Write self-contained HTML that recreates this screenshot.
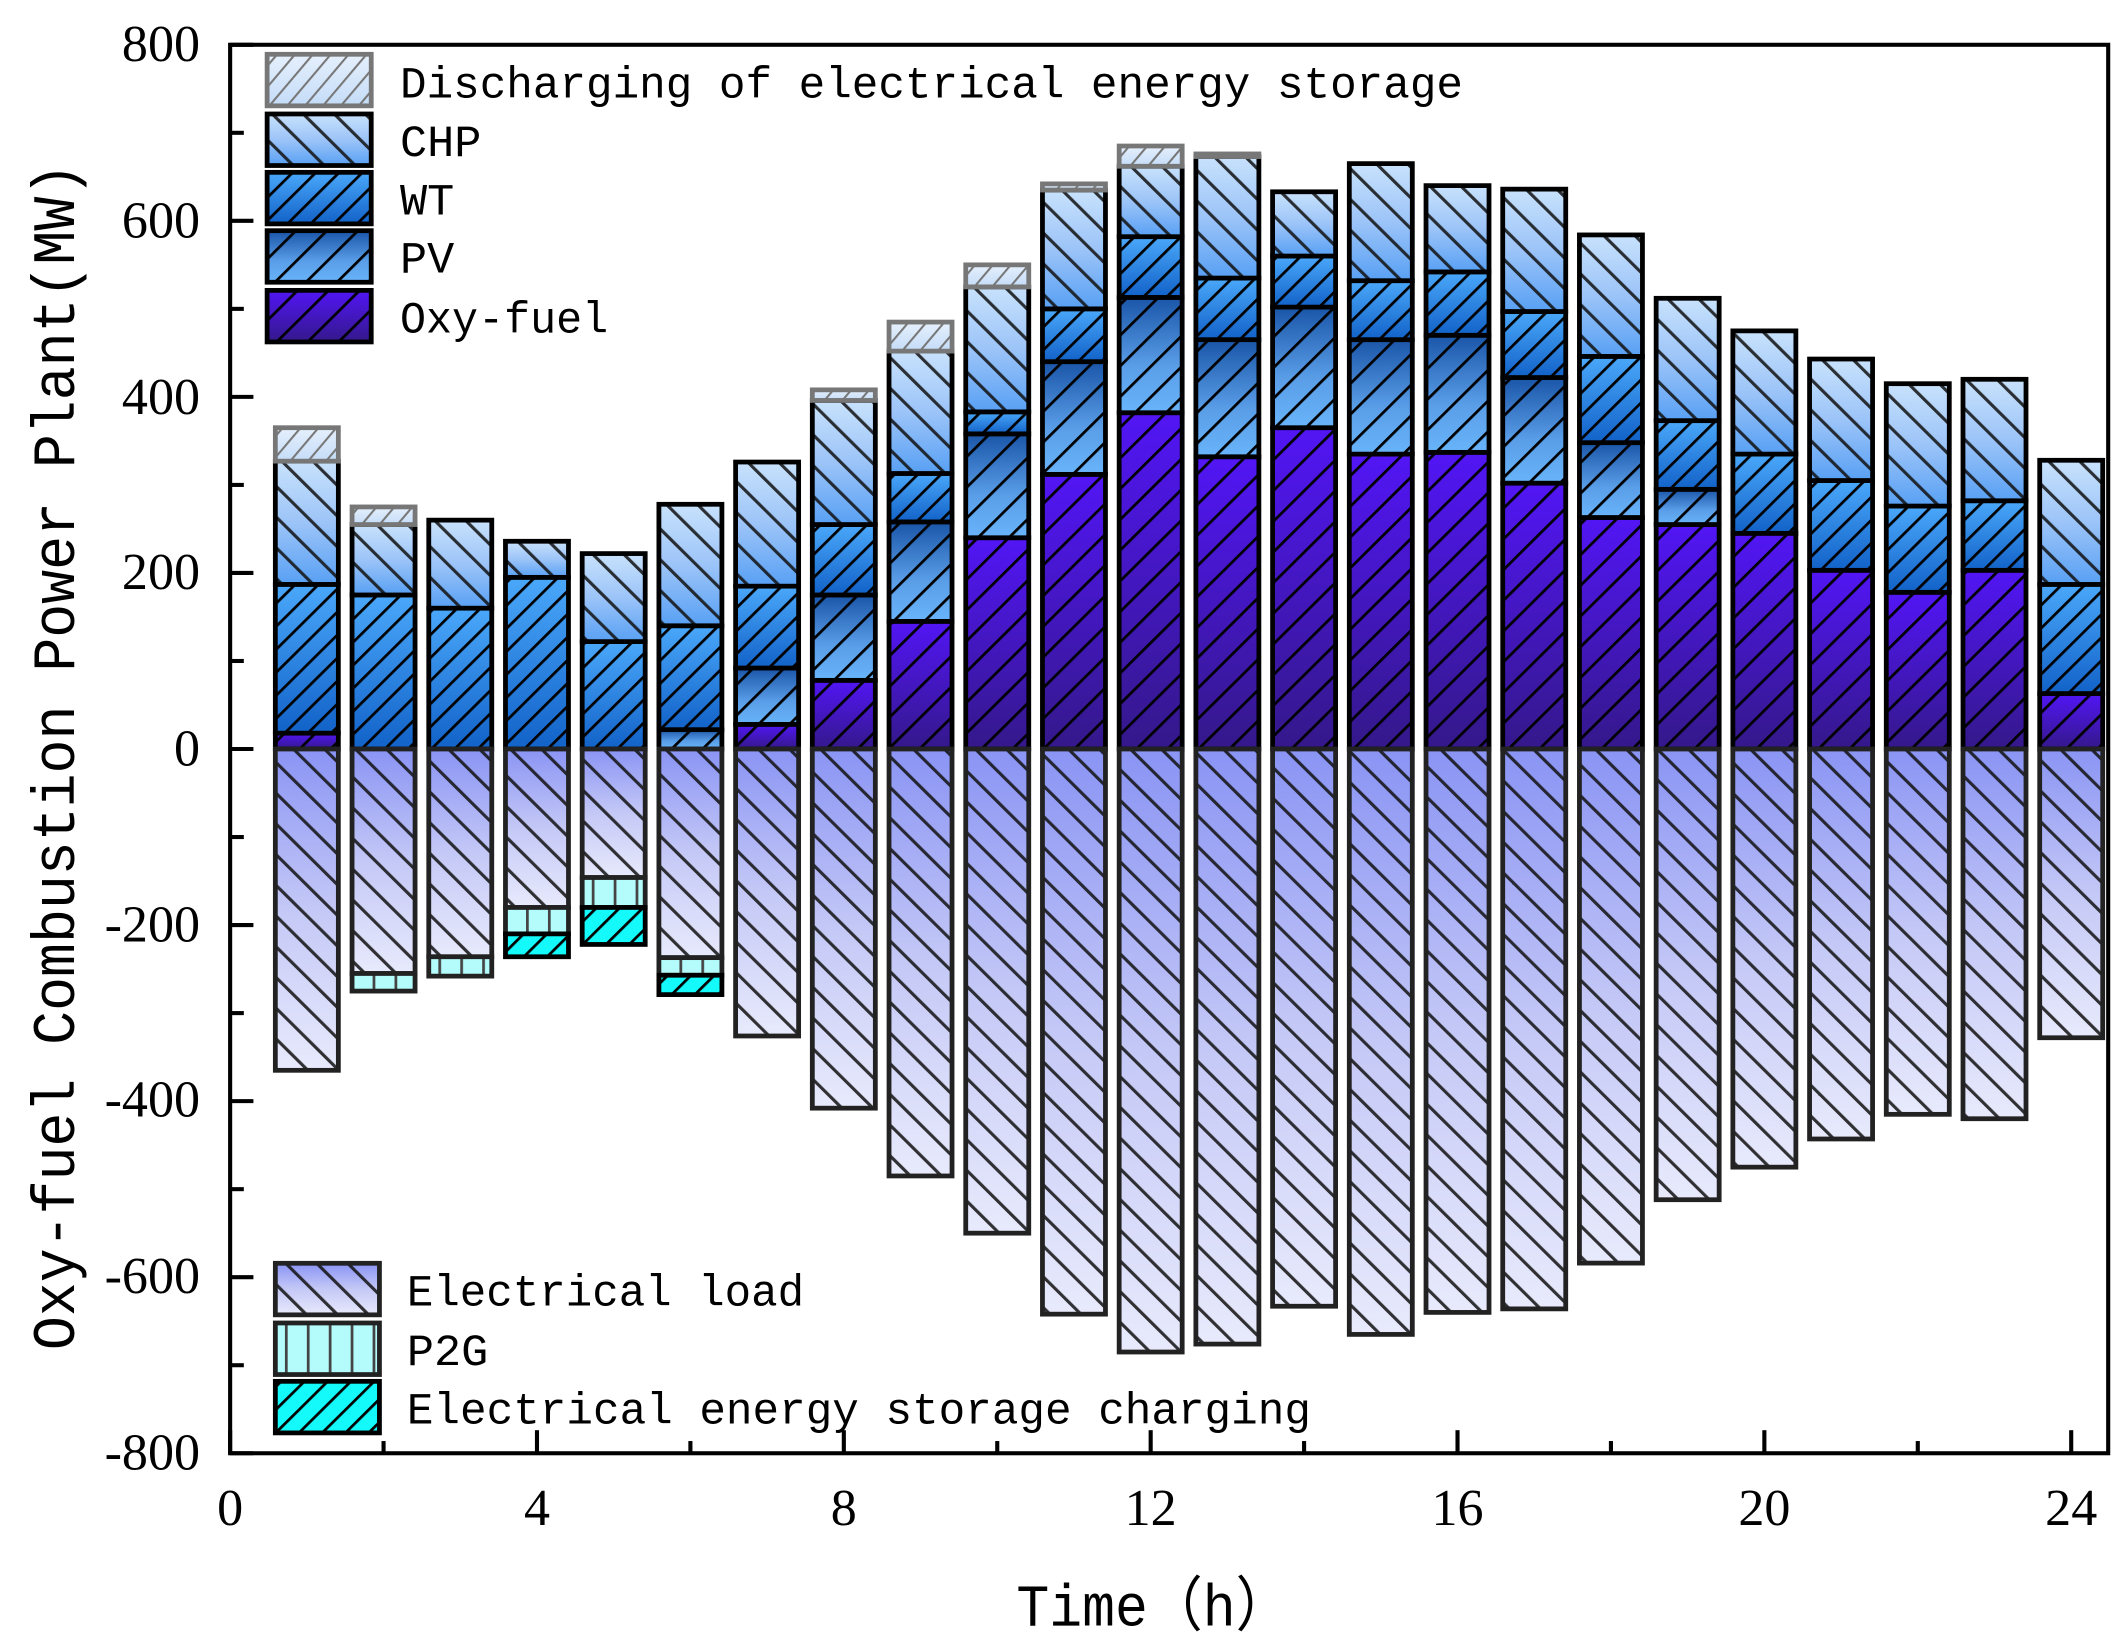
<!DOCTYPE html>
<html><head><meta charset="utf-8"><style>html,body{margin:0;padding:0;background:#fff}svg{display:block}</style></head>
<body>
<svg id="s" width="2126" height="1650" viewBox="0 0 1552 1216" preserveAspectRatio="none" xmlns="http://www.w3.org/2000/svg">
<defs>
<linearGradient id="gOxy" x1="0" y1="0" x2="0" y2="1"><stop offset="0" stop-color="#5216f5"/><stop offset="1" stop-color="#34188a"/></linearGradient>
<linearGradient id="gPV" x1="0" y1="0" x2="0" y2="1"><stop offset="0" stop-color="#1a55a8"/><stop offset="0.6" stop-color="#5a9ee8"/><stop offset="1" stop-color="#68b4fa"/></linearGradient>
<linearGradient id="gWT" x1="0" y1="0" x2="0" y2="1"><stop offset="0" stop-color="#4aa8fa"/><stop offset="1" stop-color="#1262c8"/></linearGradient>
<linearGradient id="gCHP" x1="0" y1="0" x2="0" y2="1"><stop offset="0" stop-color="#c8e2fc"/><stop offset="0.5" stop-color="#9cc4f8"/><stop offset="1" stop-color="#58a0f4"/></linearGradient>
<linearGradient id="gDis" x1="0" y1="0" x2="0" y2="1"><stop offset="0" stop-color="#e6f0fc"/><stop offset="1" stop-color="#c4dcf8"/></linearGradient>
<linearGradient id="gLoad" x1="0" y1="0" x2="0" y2="1"><stop offset="0" stop-color="#8a94f4"/><stop offset="0.5" stop-color="#c4c8f6"/><stop offset="1" stop-color="#e8eafc"/></linearGradient>
<pattern id="hBack" patternUnits="userSpaceOnUse" width="16" height="16" patternTransform="rotate(-45)"><rect width="2.3" height="16" fill="#111" opacity="0.85"/></pattern>
<pattern id="hFwd" patternUnits="userSpaceOnUse" width="16" height="16" patternTransform="rotate(45)"><rect width="2" height="16" fill="#000"/></pattern>
<pattern id="hFwdS" patternUnits="userSpaceOnUse" width="12" height="12" patternTransform="rotate(45)"><rect width="2" height="12" fill="#000"/></pattern>
<pattern id="hDis" patternUnits="userSpaceOnUse" width="10" height="10" patternTransform="rotate(40)"><rect width="1.5" height="10" fill="#777"/></pattern>
<pattern id="hVert" patternUnits="userSpaceOnUse" width="16" height="16"><rect x="0" width="2" height="16" fill="#444"/></pattern>
</defs>
<g id="bars"></g>
<rect x="168" y="33" width="1371" height="1038" fill="none" stroke="#000" stroke-width="3"/>
<g id="ticks" stroke="#000" stroke-width="3"></g>
<g font-family="'Liberation Serif',serif" font-size="38" fill="#000">
<text x="146" y="45" text-anchor="end">800</text>
<text x="146" y="175" text-anchor="end">600</text>
<text x="146" y="305" text-anchor="end">400</text>
<text x="146" y="434" text-anchor="end">200</text>
<text x="146" y="564" text-anchor="end">0</text>
<text x="146" y="694" text-anchor="end">-200</text>
<text x="146" y="823" text-anchor="end">-400</text>
<text x="146" y="953" text-anchor="end">-600</text>
<text x="146" y="1083" text-anchor="end">-800</text>
<text x="168" y="1124" text-anchor="middle">0</text>
<text x="392" y="1124" text-anchor="middle">4</text>
<text x="616" y="1124" text-anchor="middle">8</text>
<text x="840" y="1124" text-anchor="middle">12</text>
<text x="1064" y="1124" text-anchor="middle">16</text>
<text x="1288" y="1124" text-anchor="middle">20</text>
<text x="1512" y="1124" text-anchor="middle">24</text>
</g>
<g font-family="'Liberation Mono','Noto Sans CJK SC',monospace" fill="#000">
<text x="742" y="1198" font-size="44" textLength="200" lengthAdjust="spacingAndGlyphs">Time（h）</text>
<text transform="translate(54,995) rotate(-90)" font-size="44" textLength="875" lengthAdjust="spacingAndGlyphs">Oxy-fuel Combustion Power Plant(MW)</text>
<g font-size="33">
<text x="292" y="72" textLength="776" lengthAdjust="spacingAndGlyphs">Discharging of electrical energy storage</text>
<text x="292" y="115">CHP</text>
<text x="292" y="158">WT</text>
<text x="292" y="201">PV</text>
<text x="292" y="245" textLength="152" lengthAdjust="spacingAndGlyphs">Oxy-fuel</text>
<text x="297" y="962" textLength="290" lengthAdjust="spacingAndGlyphs">Electrical load</text>
<text x="297" y="1006">P2G</text>
<text x="297" y="1049" textLength="660" lengthAdjust="spacingAndGlyphs">Electrical energy storage charging</text>
</g></g>
<g id="leg"></g>
</svg>
<script>
var NS="http://www.w3.org/2000/svg";
function R(p,x,y,w,h,fill,hatch,stroke){
 var r=document.createElementNS(NS,"rect");r.setAttribute("x",x);r.setAttribute("y",y);r.setAttribute("width",w);r.setAttribute("height",h);r.setAttribute("fill",fill);p.appendChild(r);
 var r2=document.createElementNS(NS,"rect");r2.setAttribute("x",x);r2.setAttribute("y",y);r2.setAttribute("width",w);r2.setAttribute("height",h);r2.setAttribute("fill","url(#"+hatch+")");r2.setAttribute("stroke",stroke||"#000");r2.setAttribute("stroke-width","3.5");p.appendChild(r2);
}
function Y(v){return 552-v*0.64875;}
var D=[
[18,18,187,327,365,365,0,0],
[0,0,175,255,275,255,20,0],
[0,0,160,260,260,236,22,0],
[0,0,195,236,236,180,30,26],
[0,0,122,222,222,146,34,42],
[0,22,140,278,278,237,20,22],
[28,92,185,326,326,326,0,0],
[78,175,255,396,408,408,0,0],
[145,258,313,452,485,485,0,0],
[240,358,383,525,550,550,0,0],
[312,440,500,635,642,642,0,0],
[382,513,582,662,685,685,0,0],
[332,465,535,673,676,676,0,0],
[365,502,560,633,633,633,0,0],
[335,465,532,665,665,665,0,0],
[337,470,542,640,640,640,0,0],
[302,422,497,636,636,636,0,0],
[263,348,446,584,584,584,0,0],
[255,295,373,512,512,512,0,0],
[245,245,335,475,475,475,0,0],
[203,203,305,443,443,443,0,0],
[178,178,276,415,415,415,0,0],
[203,203,282,420,420,420,0,0],
[63,63,187,328,328,328,0,0]];
var g=document.getElementById("bars");
D.forEach(function(d,i){
 var cx=168+56*(i+1),x=cx-23,w=46;
 function seg(a,b,f,h,s){if(b-a>0.5)R(g,x,Y(b),w,Y(a)-Y(b),f,h,s);}
 seg(0,d[0],"url(#gOxy)","hFwd");
 seg(d[0],d[1],"url(#gPV)","hFwd");
 seg(d[1],d[2],"url(#gWT)","hFwdS");
 seg(d[2],d[3],"url(#gCHP)","hBack");
 seg(d[3],d[4],"url(#gDis)","hDis","#777");
 var l=d[5];
 R(g,x,552,w,Y(-l)-552,"url(#gLoad)","hBack","#222");
 if(d[6])R(g,x,Y(-l),w,d[6]*0.64875,"#b4fcfc","hVert","#222");
 if(d[7])R(g,x,Y(-l-d[6]),w,d[7]*0.64875,"#14fafa","hFwdS");
});
var lg=document.getElementById("leg");
R(lg,195,40,76,38,"url(#gDis)","hDis","#777");
R(lg,195,84,76,38,"url(#gCHP)","hBack");
R(lg,195,127,76,38,"url(#gWT)","hFwdS");
R(lg,195,170,76,38,"url(#gPV)","hFwd");
R(lg,195,214,76,38,"url(#gOxy)","hFwd");
R(lg,201,931,76,38,"url(#gLoad)","hBack","#222");
R(lg,201,975,76,38,"#b4fcfc","hVert","#222");
R(lg,201,1018,76,38,"#14fafa","hFwdS");
var t=document.getElementById("ticks");
function L(x1,y1,x2,y2){var l=document.createElementNS(NS,"line");l.setAttribute("x1",x1);l.setAttribute("y1",y1);l.setAttribute("x2",x2);l.setAttribute("y2",y2);t.appendChild(l);}
for(var v=-800;v<=800;v+=100){var y=Y(v);L(168,y,v%200==0?185:178,y);}
for(var h=0;h<=24;h+=2){var x=168+56*h;L(x,1071,x,h%4==0?1054:1062);}
</script>
</body></html>
